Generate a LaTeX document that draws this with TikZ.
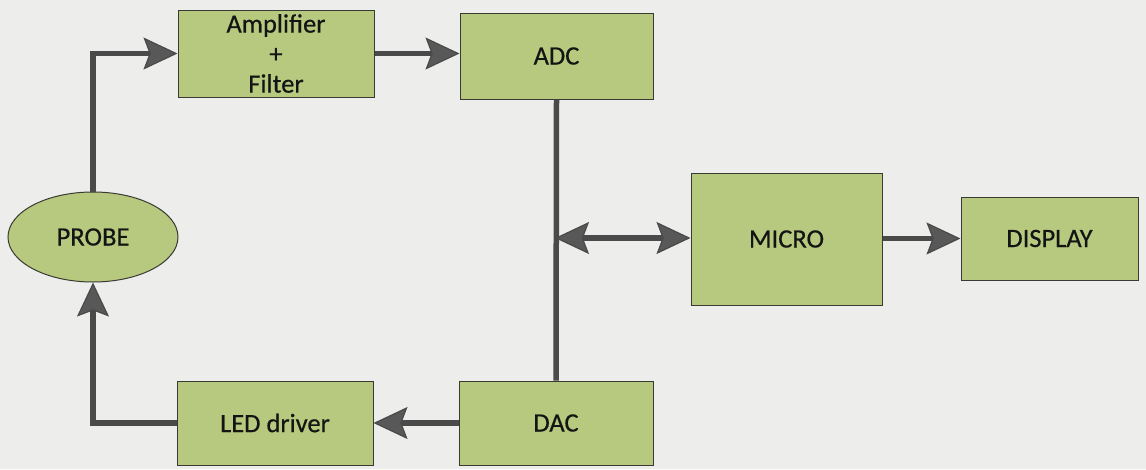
\documentclass[tikz,border=0pt]{standalone}
\usepackage{fontspec}
\setmainfont{Carlito}
\newfontfamily\boxfont{Carlito}[FakeBold=0.5]
\usetikzlibrary{arrows.meta,shapes.geometric}
\definecolor{boxgreen}{HTML}{B7C97E}
\definecolor{boxline}{HTML}{3A3A34}
\definecolor{shaft}{HTML}{4A4A4A}
\definecolor{tipfill}{HTML}{585858}
\definecolor{paper}{HTML}{EDEDEB}
\tikzset{
  blk/.style={draw=boxline, line width=1pt, fill=boxgreen, inner sep=0pt,
    font=\boxfont\fontsize{26.5}{31}\selectfont, text=black!92, align=center},
  conn/.style={draw=shaft, line width=5.5pt},
  tipA/.style={-{Stealth[length=34pt,width=32pt,inset=6pt,line width=1.2pt,fill=tipfill]}},
  tipB/.style={{Stealth[length=34pt,width=32pt,inset=6pt,line width=1.2pt,fill=tipfill]}-{Stealth[length=34pt,width=32pt,inset=6pt,line width=1.2pt,fill=tipfill]}}
}
\begin{document}
\begin{tikzpicture}[x=1pt,y=-1pt]
\fill[paper] (0,0) rectangle (1146,469);
\useasboundingbox (0,0) rectangle (1146,469);
\node[blk, minimum width=196pt, minimum height=87pt] (amp) at (276,53.5) {Amplifier\\[-1pt]+\\[-1pt]Filter};
\node[blk, minimum width=193pt, minimum height=86pt] (adc) at (556.5,56) {ADC};
\node[blk, ellipse, minimum width=170pt, minimum height=90pt] (probe) at (93,237) {PROBE};
\node[blk, minimum width=191pt, minimum height=132pt] (micro) at (786.5,239) {MICRO};
\node[blk, minimum width=177pt, minimum height=83pt] (disp) at (1049.5,238.5) {DISPLAY};
\node[blk, minimum width=196pt, minimum height=84pt] (led) at (275,423) {LED driver};
\node[blk, minimum width=194pt, minimum height=84pt] (dac) at (556,423) {DAC};
\coordinate (busj) at (555,238);
\draw[conn, tipA] (probe.north) |- (amp.west);
\draw[conn, tipA] (amp.east) -- (amp.east -| adc.west);
\draw[conn] (adc.south) -- (dac.north);
\draw[conn, tipB] (busj) -- (micro.west |- busj);
\draw[conn, tipA] (micro.east |- disp.west) -- (disp.west);
\draw[conn, tipA] (dac.west) -- (led.east);
\draw[conn, tipA] (led.west) -| (probe.south);
\end{tikzpicture}
\end{document}
